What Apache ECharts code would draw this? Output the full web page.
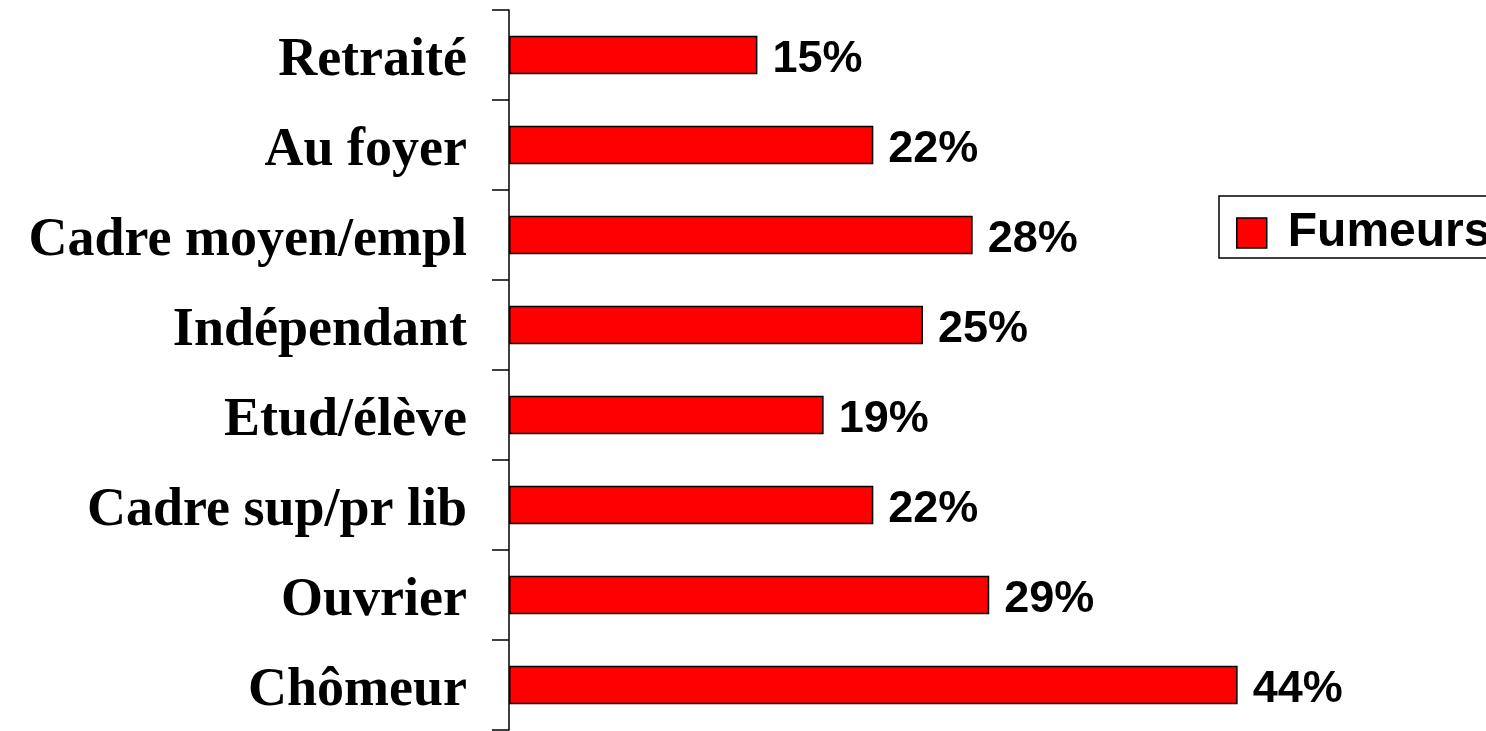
<!DOCTYPE html>
<html>
<head>
<meta charset="utf-8">
<script src="https://cdn.jsdelivr.net/npm/echarts@6/dist/echarts.min.js"></script>
<style>
  html, body { margin: 0; padding: 0; background: #fff; }
  #chart { width: 1486px; height: 731px; }
</style>
</head>
<body>
<div id="chart"></div>
<script>
// categories listed bottom -> top (category axis starts at the bottom)
var categories = ['Chômeur', 'Ouvrier', 'Cadre sup/pr lib', 'Etud/élève',
                  'Indépendant', 'Cadre moyen/empl', 'Au foyer', 'Retraité'];
var fumeurs = [44, 29, 22, 19, 25, 28, 22, 15];
var seriesName = 'Fumeurs';

var myChart = echarts.init(document.getElementById('chart'));

var option = {
  animation: false,
  grid: {
    left: 509,
    top: 10,
    width: 828,
    height: 720
  },
  legend: {
    data: [seriesName],
    icon: 'rect',
    left: 1219,
    top: 196,
    orient: 'vertical',
    backgroundColor: '#fff',
    borderColor: '#000',
    borderWidth: 1.5,
    padding: [13, 14, 1, 17],
    itemWidth: 30,
    itemHeight: 30,
    itemGap: 0,
    itemStyle: { borderColor: '#000', borderWidth: 1.5 },
    textStyle: {
      fontFamily: 'Liberation Sans, Arial, sans-serif',
      fontWeight: 'bold',
      fontSize: 48,
      color: '#000',
      padding: [0, 0, 0, 16]
    }
  },
  xAxis: {
    type: 'value',
    min: 0,
    max: 50,
    show: false
  },
  yAxis: {
    type: 'category',
    data: categories,
    axisLine: { lineStyle: { color: '#000', width: 1.5 } },
    axisTick: { show: true, length: 17, lineStyle: { color: '#000', width: 1.5 } },
    axisLabel: {
      margin: 42,
      color: '#000',
      fontFamily: 'Liberation Serif, Times New Roman, serif',
      fontWeight: 'bold',
      fontSize: 54,
      verticalAlign: 'top',
      lineHeight: 12
    },
    splitLine: { show: false }
  },
  series: [
    {
      name: seriesName,
      type: 'bar',
      data: fumeurs,
      barCategoryGap: '57%',
      itemStyle: {
        color: '#ff0000',
        borderColor: '#000',
        borderWidth: 1.5
      },
      label: {
        show: true,
        position: 'right',
        distance: 15,
        formatter: '{c}%',
        color: '#000',
        fontFamily: 'Liberation Sans, Arial, sans-serif',
        fontWeight: 'bold',
        fontSize: 45,
        verticalAlign: 'top',
        lineHeight: 10
      }
    }
  ]
};

myChart.setOption(option);
</script>
</body>
</html>
